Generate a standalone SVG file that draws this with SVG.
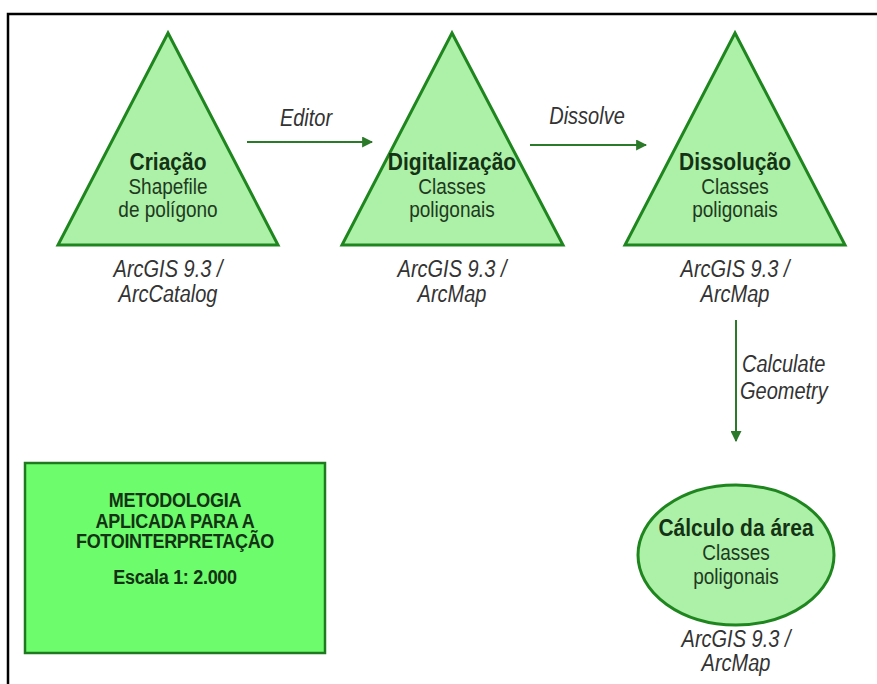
<svg xmlns="http://www.w3.org/2000/svg" width="877" height="684" viewBox="0 0 877 684">
<style>
.shape{fill:#adf0a8;stroke:#1f861f;stroke-width:3;stroke-linejoin:miter}
.t{font-family:"Liberation Sans",Arial,sans-serif;text-anchor:middle;fill:#1f2a1f}
.b{font-weight:bold;font-size:21px;fill:#143214}
.r{font-size:19px;fill:#1e3a1e}
.i{font-style:italic;font-size:20px;fill:#333}
.c{stroke:#2a7a2a;stroke-width:2;fill:none}
.box{fill:#6cfc6c;stroke:#1f7a1f;stroke-width:2.5}
.bt{font-family:"Liberation Sans",Arial,sans-serif;font-weight:bold;font-size:18px;text-anchor:middle;fill:#143214}
</style>
<defs>
<marker id="ah" viewBox="0 0 10 10" refX="9" refY="5" markerWidth="11" markerHeight="11" orient="auto" markerUnits="userSpaceOnUse">
<path d="M0,0 L10,5 L0,10 z" fill="#2a7a2a"/>
</marker>
</defs>
<rect width="877" height="684" fill="#fff"/>
<path d="M8,684 L8,14 L877,14" fill="none" stroke="#000" stroke-width="2.5"/>

<g id="connectors">
<line class="c" x1="247" y1="142" x2="372" y2="142" marker-end="url(#ah)"/>
<text class="t i" transform="translate(306,126) scale(1,1.15)">Editor</text>
<line class="c" x1="530" y1="145" x2="646" y2="145" marker-end="url(#ah)"/>
<text class="t i" transform="translate(587,124) scale(1,1.15)">Dissolve</text>
<line class="c" x1="736" y1="320" x2="736" y2="441" marker-end="url(#ah)"/>
<text class="t i" transform="translate(742,372) scale(1,1.15)" style="text-anchor:start">Calculate</text>
<text class="t i" transform="translate(740,399) scale(1,1.15)" style="text-anchor:start">Geometry</text>
</g>

<g id="criacao">
<polygon class="shape" points="168,33 278,245 58,245"/>
<text class="t b" transform="translate(168,170) scale(1,1.15)">Criação</text>
<text class="t r" transform="translate(168,194) scale(1,1.15)">Shapefile</text>
<text class="t r" transform="translate(168,217) scale(1,1.15)">de polígono</text>
<text class="t i" transform="translate(168,277) scale(1,1.15)">ArcGIS 9.3 /</text>
<text class="t i" transform="translate(168,302) scale(1,1.15)">ArcCatalog</text>
</g>

<g id="digitalizacao">
<polygon class="shape" points="452,33 563,245 342,245"/>
<text class="t b" transform="translate(452,170) scale(1,1.15)">Digitalização</text>
<text class="t r" transform="translate(452,194) scale(1,1.15)">Classes</text>
<text class="t r" transform="translate(452,217) scale(1,1.15)">poligonais</text>
<text class="t i" transform="translate(452,277) scale(1,1.15)">ArcGIS 9.3 /</text>
<text class="t i" transform="translate(452,302) scale(1,1.15)">ArcMap</text>
</g>

<g id="dissolucao">
<polygon class="shape" points="735,33 845,245 625,245"/>
<text class="t b" transform="translate(735,170) scale(1,1.15)">Dissolução</text>
<text class="t r" transform="translate(735,194) scale(1,1.15)">Classes</text>
<text class="t r" transform="translate(735,217) scale(1,1.15)">poligonais</text>
<text class="t i" transform="translate(735,277) scale(1,1.15)">ArcGIS 9.3 /</text>
<text class="t i" transform="translate(735,302) scale(1,1.15)">ArcMap</text>
</g>

<g id="calculo">
<ellipse class="shape" cx="736" cy="555" rx="98" ry="70"/>
<text class="t b" transform="translate(736,536) scale(1,1.15)">Cálculo da área</text>
<text class="t r" transform="translate(736,560) scale(1,1.15)">Classes</text>
<text class="t r" transform="translate(736,584) scale(1,1.15)">poligonais</text>
<text class="t i" transform="translate(736,647) scale(1,1.15)">ArcGIS 9.3 /</text>
<text class="t i" transform="translate(736,671) scale(1,1.15)">ArcMap</text>
</g>

<g id="metodologia">
<rect class="box" x="25" y="463" width="300" height="190"/>
<text class="bt" transform="translate(175,507) scale(1,1.1)" letter-spacing="-0.3">METODOLOGIA</text>
<text class="bt" transform="translate(175,528) scale(1,1.1)" letter-spacing="-0.3">APLICADA PARA A</text>
<text class="bt" transform="translate(175,548) scale(1,1.1)" letter-spacing="-0.3">FOTOINTERPRETAÇÃO</text>
<text class="bt" transform="translate(175,584) scale(1,1.1)" letter-spacing="-0.3">Escala 1: 2.000</text>
</g>
</svg>
